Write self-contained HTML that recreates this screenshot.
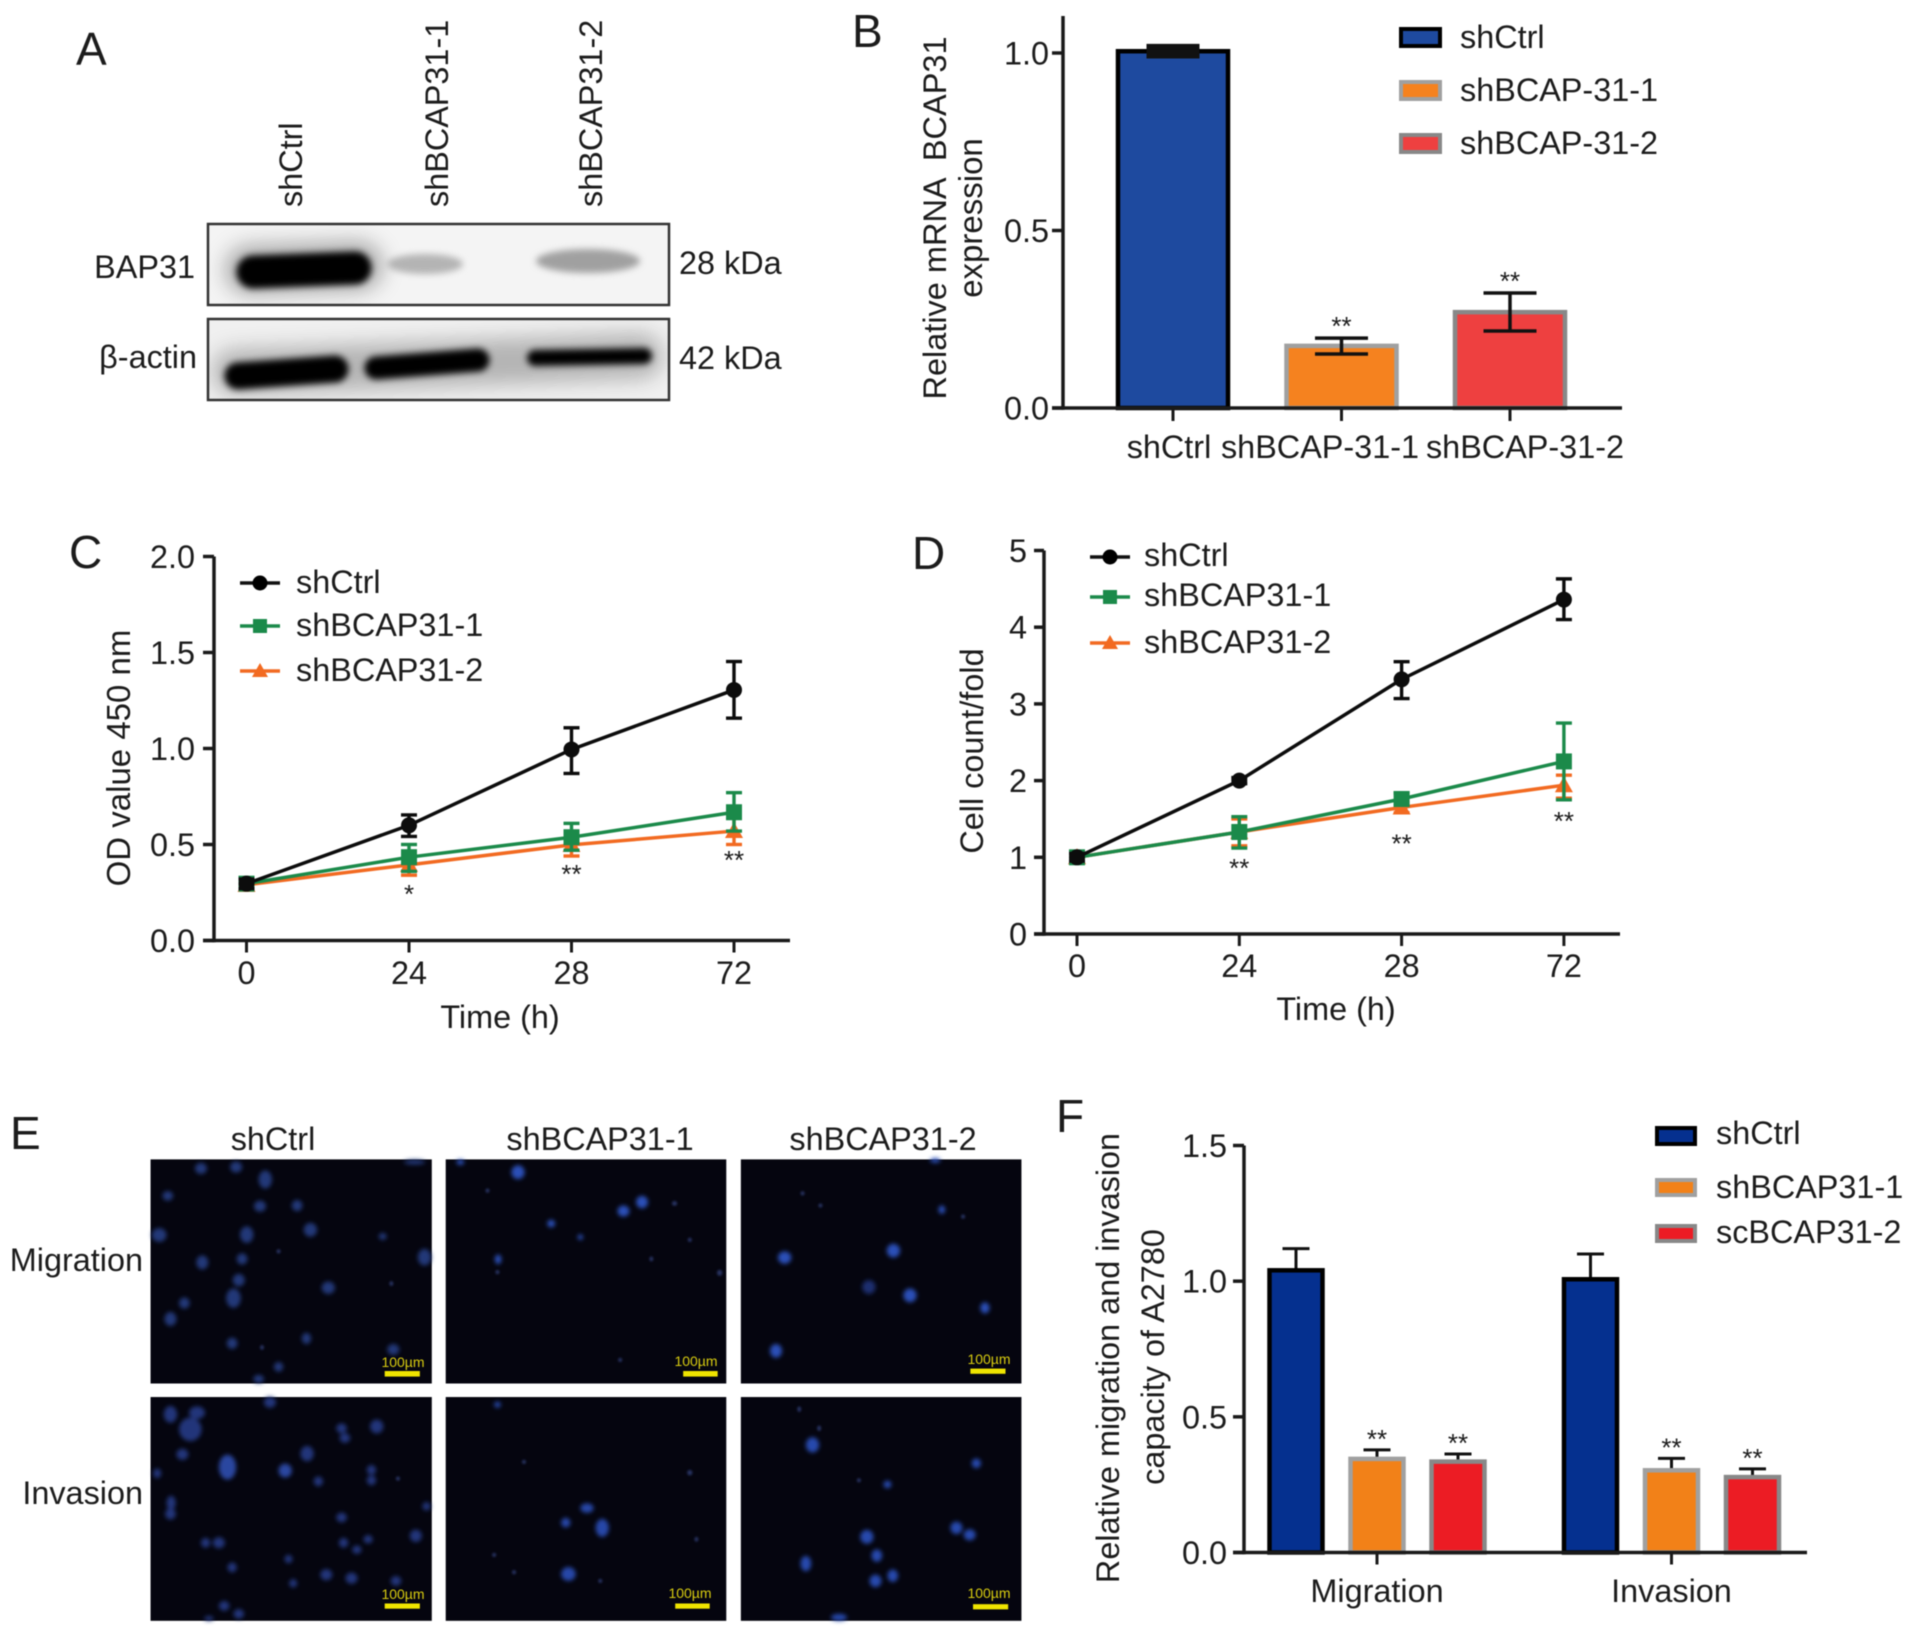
<!DOCTYPE html>
<html lang="en">
<head>
<meta charset="utf-8">
<title>BAP31 knockdown figure</title>
<style>
  html,body{margin:0;padding:0;background:#fff;}
  #figure{display:block;filter:blur(0.6px);}
  text{font-family:"Liberation Sans",Arial,sans-serif;font-size:32.4px;fill:#1c1c1c;}
  .letter{font-size:46px;}
  .star{font-size:26px;text-anchor:middle;}
  .sb{font-size:14px;fill:#d8cc10;text-anchor:middle;}
</style>
</head>
<body>
<svg id="figure" xmlns="http://www.w3.org/2000/svg" width="1913" height="1634" viewBox="0 0 1913 1634">
  <defs>
    <filter id="b3" filterUnits="userSpaceOnUse" x="150" y="180" width="600" height="260"><feGaussianBlur stdDeviation="3.5"/></filter>
    <filter id="b10" filterUnits="userSpaceOnUse" x="150" y="180" width="600" height="260"><feGaussianBlur stdDeviation="10"/></filter>
    <filter id="cellBlur" x="-10%" y="-10%" width="120%" height="120%"><feGaussianBlur stdDeviation="3.4 6.2"/></filter>
    <filter id="speckBlur" x="-10%" y="-10%" width="120%" height="120%"><feGaussianBlur stdDeviation="1.5 3"/></filter>
    <clipPath id="blotClipTop"><rect x="208" y="224" width="461" height="81"/></clipPath>
    <clipPath id="blotClipBottom"><rect x="208" y="319" width="461" height="81"/></clipPath>
  </defs>
  <rect width="1913" height="1634" fill="#fff"/>

  <!-- Panel A -->
  <g>
    <text class="letter" x="76" y="65">A</text>
    <text transform="translate(302,207) rotate(-90)">shCtrl</text>
    <text transform="translate(448,207) rotate(-90)">shBCAP31-1</text>
    <text transform="translate(602,207) rotate(-90)">shBCAP31-2</text>
    <text x="195" y="278" text-anchor="end">BAP31</text>
    <text x="197" y="368" text-anchor="end" style="font-family:'Liberation Sans','DejaVu Sans',sans-serif;">β-actin</text>
    <text x="679" y="274">28 kDa</text>
    <text x="679" y="369">42 kDa</text>
    <g clip-path="url(#blotClipTop)">
      <rect x="208" y="224" width="461" height="81" fill="#f4f4f4"/>
      <line x1="250" y1="270" x2="358" y2="266" stroke="#000" stroke-opacity=".3" stroke-width="50" stroke-linecap="round" filter="url(#b10)"/>
      <line x1="253" y1="272" x2="355" y2="268" stroke="#050103" stroke-width="33" stroke-linecap="round" filter="url(#b3)"/>
      <ellipse cx="425" cy="264" rx="38" ry="10" fill="#b4b4b4" filter="url(#b3)"/>
      <ellipse cx="588" cy="261" rx="52" ry="12" fill="#a0a0a0" filter="url(#b3)"/>
    </g>
    <rect x="208" y="224" width="461" height="81" fill="none" stroke="#333" stroke-width="2.5"/>
    <g clip-path="url(#blotClipBottom)">
      <rect x="208" y="319" width="461" height="81" fill="#f0f0f0"/>
      <line x1="235" y1="372" x2="640" y2="356" stroke="#000" stroke-opacity=".25" stroke-width="46" stroke-linecap="round" filter="url(#b10)"/>
      <line x1="238" y1="376" x2="335" y2="369" stroke="#050103" stroke-width="27" stroke-linecap="round" filter="url(#b3)"/>
      <line x1="376" y1="368" x2="478" y2="360" stroke="#050103" stroke-width="23" stroke-linecap="round" filter="url(#b3)"/>
      <line x1="535" y1="358" x2="644" y2="356" stroke="#050103" stroke-width="16" stroke-linecap="round" filter="url(#b3)"/>
    </g>
    <rect x="208" y="319" width="461" height="81" fill="none" stroke="#333" stroke-width="2.5"/>
  </g>

  <!-- Panel B static labels -->
  <g id="panelB">
    <text class="letter" x="852" y="47">B</text>
    <text transform="translate(946,218) rotate(-90)" text-anchor="middle" style="font-size:32.5px;white-space:pre" xml:space="preserve">Relative mRNA  BCAP31</text>
    <text transform="translate(982,218) rotate(-90)" text-anchor="middle" style="font-size:33px">expression</text>
    <g>
      <rect x="1401" y="29" width="39" height="17" fill="#1e4a9f" stroke="#000" stroke-width="4"/>
      <text x="1460" y="48">shCtrl</text>
      <rect x="1401" y="82" width="39" height="17" fill="#f5821f" stroke="#a0a0a0" stroke-width="4"/>
      <text x="1460" y="101">shBCAP-31-1</text>
      <rect x="1401" y="135" width="39" height="17" fill="#ee4040" stroke="#888" stroke-width="4"/>
      <text x="1460" y="154">shBCAP-31-2</text>
    </g>
  </g>

  <!-- Panel C static labels -->
  <g id="panelC">
    <text class="letter" x="69" y="568">C</text>
    <text transform="translate(130,758) rotate(-90)" text-anchor="middle" style="font-size:33px">OD value 450 nm</text>
    <text x="500" y="1028" text-anchor="middle">Time (h)</text>
    <g>
      <line x1="240" y1="583" x2="280" y2="583" stroke="#111" stroke-width="3.5"/>
      <circle cx="260" cy="583" r="7.5" fill="#000"/>
      <text x="296" y="593">shCtrl</text>
      <line x1="240" y1="626" x2="280" y2="626" stroke="#1b8a4a" stroke-width="3.5"/>
      <rect x="253" y="619" width="14" height="14" fill="#1b8a4a"/>
      <text x="296" y="636">shBCAP31-1</text>
      <line x1="240" y1="671" x2="280" y2="671" stroke="#f26a21" stroke-width="3.5"/>
      <polygon points="260,663 268,677 252,677" fill="#f26a21"/>
      <text x="296" y="681">shBCAP31-2</text>
    </g>
  </g>

  <!-- Panel D static labels -->
  <g id="panelD">
    <text class="letter" x="912" y="569">D</text>
    <text transform="translate(983,751) rotate(-90)" text-anchor="middle">Cell count/fold</text>
    <text x="1336" y="1020" text-anchor="middle">Time (h)</text>
    <g>
      <line x1="1090" y1="557" x2="1130" y2="557" stroke="#111" stroke-width="3.5"/>
      <circle cx="1110" cy="557" r="7.5" fill="#000"/>
      <text x="1144" y="566">shCtrl</text>
      <line x1="1090" y1="597" x2="1130" y2="597" stroke="#1b8a4a" stroke-width="3.5"/>
      <rect x="1103" y="590" width="14" height="14" fill="#1b8a4a"/>
      <text x="1144" y="606">shBCAP31-1</text>
      <line x1="1090" y1="643" x2="1130" y2="643" stroke="#f26a21" stroke-width="3.5"/>
      <polygon points="1110,635 1118,649 1102,649" fill="#f26a21"/>
      <text x="1144" y="653">shBCAP31-2</text>
    </g>
  </g>

  <!-- Panel E -->
  <g>
    <text class="letter" x="10" y="1149">E</text>
    <text x="273" y="1150" text-anchor="middle">shCtrl</text>
    <text x="600" y="1150" text-anchor="middle">shBCAP31-1</text>
    <text x="883" y="1150" text-anchor="middle">shBCAP31-2</text>
    <text x="143" y="1271" text-anchor="end">Migration</text>
    <text x="143" y="1504" text-anchor="end">Invasion</text>
    <svg x="0" y="1090" width="1040" height="544" viewBox="0 0 1568 1568" preserveAspectRatio="none">
      <g fill="#05050f">
        <rect x="227" y="200" width="424" height="646"/>
        <rect x="672" y="200" width="423" height="646"/>
        <rect x="1117" y="200" width="423" height="646"/>
        <rect x="227" y="885" width="424" height="645"/>
        <rect x="672" y="885" width="423" height="645"/>
        <rect x="1117" y="885" width="423" height="645"/>
      </g>
      <g fill="#223878" filter="url(#cellBlur)">
        <ellipse cx="303" cy="226" rx="9" ry="16"/>
        <ellipse cx="356" cy="222" rx="9" ry="16"/>
        <ellipse cx="400" cy="258" rx="10" ry="26"/>
        <ellipse cx="253" cy="305" rx="8" ry="14"/>
        <ellipse cx="392" cy="335" rx="9" ry="16"/>
        <ellipse cx="448" cy="333" rx="8" ry="16"/>
        <ellipse cx="372" cy="417" rx="10" ry="24"/>
        <ellipse cx="468" cy="403" rx="10" ry="20"/>
        <ellipse cx="240" cy="418" rx="11" ry="20"/>
        <ellipse cx="577" cy="422" rx="6" ry="10"/>
        <ellipse cx="640" cy="482" rx="10" ry="24"/>
        <ellipse cx="305" cy="497" rx="9" ry="20"/>
        <ellipse cx="365" cy="487" rx="8" ry="16"/>
        <ellipse cx="360" cy="548" rx="9" ry="18"/>
        <ellipse cx="495" cy="570" rx="10" ry="18"/>
        <ellipse cx="352" cy="600" rx="11" ry="28"/>
        <ellipse cx="278" cy="614" rx="8" ry="16"/>
        <ellipse cx="257" cy="660" rx="9" ry="20"/>
        <ellipse cx="462" cy="716" rx="7" ry="16"/>
        <ellipse cx="350" cy="730" rx="8" ry="16"/>
        <ellipse cx="593" cy="748" rx="9" ry="16"/>
        <ellipse cx="420" cy="798" rx="7" ry="14"/>
        <ellipse cx="390" cy="833" rx="8" ry="12"/>
        <ellipse cx="625" cy="208" rx="16" ry="7"/>
      </g>
      <g fill="#2a50b8" filter="url(#cellBlur)">
        <ellipse cx="781" cy="237" rx="10" ry="20"/>
        <ellipse cx="968" cy="323" rx="9" ry="18"/>
        <ellipse cx="940" cy="349" rx="9" ry="16"/>
        <ellipse cx="831" cy="385" rx="6" ry="11"/>
        <ellipse cx="875" cy="424" rx="4" ry="8"/>
        <ellipse cx="751" cy="488" rx="5" ry="14"/>
        <ellipse cx="694" cy="208" rx="6" ry="8"/>
      </g>
      <g fill="#2a50b8" filter="url(#cellBlur)">
        <ellipse cx="1410" cy="203" rx="8" ry="7"/>
        <ellipse cx="1420" cy="345" rx="5" ry="12"/>
        <ellipse cx="1347" cy="463" rx="10" ry="20"/>
        <ellipse cx="1183" cy="483" rx="10" ry="18"/>
        <ellipse cx="1310" cy="568" rx="10" ry="20" fill="#1d2e70"/>
        <ellipse cx="1372" cy="592" rx="10" ry="20"/>
        <ellipse cx="1485" cy="628" rx="7" ry="16"/>
        <ellipse cx="1170" cy="752" rx="9" ry="20"/>
      </g>
      <g fill="#21367a" filter="url(#cellBlur)">
        <ellipse cx="257" cy="935" rx="10" ry="24"/>
        <ellipse cx="297" cy="930" rx="12" ry="18"/>
        <ellipse cx="287" cy="978" rx="17" ry="34"/>
        <ellipse cx="407" cy="900" rx="9" ry="16"/>
        <ellipse cx="515" cy="975" rx="8" ry="14"/>
        <ellipse cx="520" cy="1003" rx="8" ry="14"/>
        <ellipse cx="568" cy="970" rx="10" ry="20"/>
        <ellipse cx="275" cy="1050" rx="9" ry="16"/>
        <ellipse cx="343" cy="1087" rx="13" ry="36" fill="#2946a0"/>
        <ellipse cx="463" cy="1048" rx="10" ry="22"/>
        <ellipse cx="430" cy="1097" rx="10" ry="20" fill="#2946a0"/>
        <ellipse cx="480" cy="1128" rx="7" ry="14"/>
        <ellipse cx="560" cy="1095" rx="7" ry="14"/>
        <ellipse cx="560" cy="1125" rx="7" ry="14"/>
        <ellipse cx="237" cy="1105" rx="6" ry="14"/>
        <ellipse cx="258" cy="1190" rx="7" ry="20"/>
        <ellipse cx="257" cy="1222" rx="8" ry="16"/>
        <ellipse cx="515" cy="1232" rx="8" ry="14"/>
        <ellipse cx="643" cy="1200" rx="6" ry="12"/>
        <ellipse cx="627" cy="1285" rx="9" ry="18"/>
        <ellipse cx="555" cy="1295" rx="7" ry="12"/>
        <ellipse cx="518" cy="1305" rx="7" ry="14"/>
        <ellipse cx="538" cy="1325" rx="7" ry="12"/>
        <ellipse cx="310" cy="1305" rx="7" ry="14"/>
        <ellipse cx="330" cy="1305" rx="9" ry="16"/>
        <ellipse cx="435" cy="1352" rx="6" ry="12"/>
        <ellipse cx="350" cy="1376" rx="7" ry="14"/>
        <ellipse cx="492" cy="1397" rx="9" ry="16"/>
        <ellipse cx="530" cy="1407" rx="9" ry="16"/>
        <ellipse cx="597" cy="1415" rx="8" ry="14"/>
        <ellipse cx="442" cy="1422" rx="6" ry="12"/>
        <ellipse cx="338" cy="1487" rx="8" ry="14"/>
        <ellipse cx="360" cy="1510" rx="8" ry="14"/>
        <ellipse cx="315" cy="1523" rx="7" ry="7"/>
      </g>
      <g fill="#2546a8" filter="url(#cellBlur)">
        <ellipse cx="750" cy="907" rx="5" ry="9"/>
        <ellipse cx="885" cy="1205" rx="10" ry="14"/>
        <ellipse cx="853" cy="1247" rx="7" ry="14"/>
        <ellipse cx="908" cy="1262" rx="10" ry="26"/>
        <ellipse cx="857" cy="1395" rx="11" ry="20"/>
      </g>
      <g fill="#2749ad" filter="url(#cellBlur)">
        <ellipse cx="1225" cy="1023" rx="10" ry="22"/>
        <ellipse cx="1472" cy="1076" rx="7" ry="14"/>
        <ellipse cx="1338" cy="1137" rx="6" ry="11"/>
        <ellipse cx="1442" cy="1262" rx="9" ry="18"/>
        <ellipse cx="1462" cy="1282" rx="9" ry="16"/>
        <ellipse cx="1307" cy="1288" rx="10" ry="20"/>
        <ellipse cx="1322" cy="1342" rx="8" ry="18"/>
        <ellipse cx="1215" cy="1365" rx="8" ry="22"/>
        <ellipse cx="1346" cy="1400" rx="8" ry="18"/>
        <ellipse cx="1320" cy="1415" rx="9" ry="18"/>
        <ellipse cx="1265" cy="1520" rx="12" ry="10"/>
      </g>
      <g fill="#26305e" filter="url(#speckBlur)">
        <ellipse cx="735" cy="290" rx="3" ry="6"/>
        <ellipse cx="1017" cy="327" rx="4" ry="7"/>
        <ellipse cx="1040" cy="432" rx="3" ry="6"/>
        <ellipse cx="982" cy="487" rx="3" ry="7"/>
        <ellipse cx="1085" cy="527" rx="4" ry="9"/>
        <ellipse cx="750" cy="525" rx="3" ry="6"/>
        <ellipse cx="935" cy="778" rx="3" ry="6"/>
        <ellipse cx="1237" cy="333" rx="3" ry="6"/>
        <ellipse cx="1452" cy="365" rx="3" ry="6"/>
        <ellipse cx="1210" cy="298" rx="3" ry="6"/>
        <ellipse cx="790" cy="1072" rx="3" ry="6"/>
        <ellipse cx="1040" cy="1103" rx="4" ry="8"/>
        <ellipse cx="745" cy="1340" rx="3" ry="6"/>
        <ellipse cx="775" cy="1390" rx="3" ry="6"/>
        <ellipse cx="1050" cy="1295" rx="3" ry="7"/>
        <ellipse cx="905" cy="1415" rx="3" ry="6"/>
        <ellipse cx="1205" cy="920" rx="3" ry="8"/>
        <ellipse cx="1235" cy="975" rx="3" ry="8"/>
        <ellipse cx="1295" cy="1125" rx="3" ry="6"/>
        <ellipse cx="420" cy="465" rx="3" ry="6"/>
        <ellipse cx="590" cy="558" rx="3" ry="7"/>
        <ellipse cx="395" cy="742" rx="3" ry="7"/>
        <ellipse cx="600" cy="1120" rx="3" ry="6"/>
      </g>
      <g fill="#efe400">
        <rect x="580" y="810" width="53" height="16"/>
        <rect x="1030" y="810" width="52" height="16"/>
        <rect x="1463" y="803" width="53" height="15"/>
        <rect x="580" y="1480" width="53" height="15"/>
        <rect x="1018" y="1480" width="52" height="15"/>
        <rect x="1467" y="1482" width="53" height="15"/>
      </g>
    </svg>
    <text class="sb" x="403" y="1367">100µm</text>
    <text class="sb" x="696" y="1366">100µm</text>
    <text class="sb" x="989" y="1364">100µm</text>
    <text class="sb" x="403" y="1599">100µm</text>
    <text class="sb" x="690" y="1598">100µm</text>
    <text class="sb" x="989" y="1598">100µm</text>
  </g>

  <!-- Panel F static labels -->
  <g id="panelF">
    <text class="letter" x="1056" y="1132">F</text>
    <text transform="translate(1119,1358) rotate(-90)" text-anchor="middle">Relative migration and invasion</text>
    <text transform="translate(1164,1357) rotate(-90)" text-anchor="middle">capacity of A2780</text>
    <g>
      <rect x="1657" y="1128" width="38" height="16" fill="#05308f" stroke="#000" stroke-width="4"/>
      <text x="1716" y="1144">shCtrl</text>
      <rect x="1657" y="1180" width="38" height="15" fill="#f28118" stroke="#a0a0a0" stroke-width="4"/>
      <text x="1716" y="1198">shBCAP31-1</text>
      <rect x="1657" y="1226" width="38" height="15" fill="#ec1c24" stroke="#888" stroke-width="4"/>
      <text x="1716" y="1243">scBCAP31-2</text>
    </g>
  </g>
</svg>

<script>
/* ---------- Panel B data ---------- */
const bCategories = ['shCtrl', 'shBCAP-31-1', 'shBCAP-31-2'];
const bValues = [1.005, 0.175, 0.27];
const bErrLow = [0.995, 0.152, 0.217];
const bErrHigh = [1.015, 0.197, 0.324];
const bStars = ['', '**', '**'];
const bTickLabels = ['0.0', '0.5', '1.0'];

/* ---------- Panel C data ---------- */
const cCategories = ['0', '24', '28', '72'];
const cTickLabels = ['0.0', '0.5', '1.0', '1.5', '2.0'];
const cCtrl = [0.296, 0.60, 0.995, 1.305];
const cCtrlLow = [0.27, 0.542, 0.87, 1.158];
const cCtrlHigh = [0.32, 0.654, 1.108, 1.453];
const cSh1 = [0.296, 0.434, 0.538, 0.668];
const cSh1Low = [0.27, 0.36, 0.47, 0.57];
const cSh1High = [0.32, 0.50, 0.61, 0.77];
const cSh2 = [0.29, 0.394, 0.498, 0.57];
const cSh2Low = [0.27, 0.34, 0.44, 0.50];
const cSh2High = [0.31, 0.44, 0.55, 0.64];
const cStars = ['', '*', '**', '**'];

/* ---------- Panel D data ---------- */
const dCategories = ['0', '24', '28', '72'];
const dTickLabels = ['0', '1', '2', '3', '4', '5'];
const dCtrl = [1.0, 2.0, 3.32, 4.36];
const dCtrlLow = [0.95, 1.96, 3.07, 4.1];
const dCtrlHigh = [1.05, 2.04, 3.55, 4.63];
const dSh1 = [1.0, 1.33, 1.76, 2.25];
const dSh1Low = [0.95, 1.12, 1.68, 1.75];
const dSh1High = [1.05, 1.53, 1.84, 2.75];
const dSh2 = [1.0, 1.33, 1.65, 1.94];
const dSh2Low = [0.95, 1.15, 1.58, 1.77];
const dSh2High = [1.05, 1.5, 1.72, 2.07];
const dStars = ['', '**', '**', '**'];

/* ---------- Panel F data ---------- */
const fGroups = ['Migration', 'Invasion'];
const fTickLabels = ['0.0', '0.5', '1.0', '1.5'];
const fCtrl = [1.04, 1.007];
const fCtrlHigh = [1.12, 1.10];
const fSh1 = [0.345, 0.303];
const fSh1High = [0.378, 0.347];
const fSc2 = [0.335, 0.278];
const fSc2High = [0.363, 0.308];
const fStarsSh1 = ['**', '**'];
const fStarsSc2 = ['**', '**'];

const NS = 'http://www.w3.org/2000/svg';
function mk(tag, attrs, parent, content) {
  const el = document.createElementNS(NS, tag);
  for (const k in attrs) el.setAttribute(k, attrs[k]);
  if (content !== undefined) el.textContent = content;
  parent.appendChild(el);
  return el;
}
function linearScale(d0, d1, r0, r1) {
  return v => r0 + (v - d0) * (r1 - r0) / (d1 - d0);
}
const AXIS = '#1a1a1a';

function drawValueAxis(parent, opts, labels, scale) {
  const axis = mk('line', {x1: opts.x, x2: opts.x, y1: opts.top, y2: opts.bottom + 1.75, stroke: AXIS, 'stroke-width': 3.5}, parent);
  
  
  labels.forEach(lab => {
    const y = scale(parseFloat(lab));
    const tick = mk('line', {x1: opts.x - opts.tick, x2: opts.x, y1: y, y2: y, stroke: AXIS, 'stroke-width': 3.5}, parent);
    
    
    const txt = mk('text', {x: opts.labelX, y: y + 11.5, 'text-anchor': 'end'}, parent, lab);
    
    
  });
}
function drawBaseline(parent, x1, x2, y) {
  const axis = mk('line', {x1: x1, x2: x2, y1: y, y2: y, stroke: AXIS, 'stroke-width': 3.5}, parent);
  
  
}
function drawXTick(parent, x, y0, y1) {
  const tick = mk('line', {x1: x, x2: x, y1: y0, y2: y1, stroke: AXIS, 'stroke-width': 3}, parent);
  
  
}
function drawStar(parent, x, centerY, label) {
  if (!label) return;
  const s = mk('text', {class: 'star', x: x, y: centerY + 15}, parent, label);
  
  
}
function drawBar(parent, cx, w, value, y, fill, stroke, baseY) {
  const top = y(value);
  const bar = mk('rect', {x: cx - w / 2, y: top, width: w, height: baseY - top, fill: fill, stroke: stroke, 'stroke-width': 4.5}, parent);
  
  
}
function drawErrorBar(parent, cx, capW, yLow, yHigh, color, sw) {
  const stem = mk('line', {x1: cx, x2: cx, y1: yLow, y2: yHigh, stroke: color, 'stroke-width': sw}, parent);
  
  
  [yLow, yHigh].forEach(yy => {
    const cap = mk('line', {x1: cx - capW / 2, x2: cx + capW / 2, y1: yy, y2: yy, stroke: color, 'stroke-width': sw}, parent);
    
    
  });
}

/* ---------- Panel B ---------- */
(function () {
  const g = document.getElementById('panelB');
  const y = linearScale(0, 1, 408, 53);
  const xAt = i => 1173 + i * 168.5;
  const fills = ['#1e4a9f', '#f5821f', '#ee4040'];
  const strokes = ['#000', '#a0a0a0', '#888'];
  bValues.forEach((v, i) => {
    drawBar(g, xAt(i), 110, v, y, fills[i], strokes[i], 408);
    const lowY = y(bErrLow[i]), highY = y(bErrHigh[i]);
    drawErrorBar(g, xAt(i), 53, lowY, highY, '#111', lowY - highY < 15 ? 7.5 : 3.5);
    drawXTick(g, xAt(i), 408, 421);
    drawStar(g, xAt(i), highY - 18, bStars[i]);
  });
  drawValueAxis(g, {x: 1063, top: 16, bottom: 408, tick: 11, labelX: 1049}, bTickLabels, y);
  drawBaseline(g, 1052, 1622, 408);
  const labelCenters = [1169, 1320, 1525];
  bCategories.forEach((c, i) => {
    const t = mk('text', {x: labelCenters[i], y: 458, 'text-anchor': 'middle'}, g, c);
    
    
  });
})();

/* ---------- Line panels ---------- */
function drawLinePanel(g, opts, cats, tickLabels, series, stars) {
  const y = linearScale(opts.d0, opts.d1, opts.y0, opts.y1);
  const xAt = i => opts.x0 + i * opts.step;
  series.forEach(s => {
    s.values.forEach((v, i) => {
      drawErrorBar(g, xAt(i), 16, y(s.low[i]), y(s.high[i]), s.color, 3.4);
    });
    const pts = s.values.map((v, i) => xAt(i) + ',' + y(v)).join(' ');
    const line = mk('polyline', {points: pts, fill: 'none', stroke: s.color, 'stroke-width': 3.5}, g);
    
    
    s.values.forEach((v, i) => {
      const px = xAt(i), py = y(v);
      let m;
      if (s.marker === 'circle') {
        m = mk('circle', {cx: px, cy: py, r: 8, fill: s.color}, g);
      } else if (s.marker === 'square') {
        m = mk('rect', {x: px - 8, y: py - 8, width: 16, height: 16, fill: s.color}, g);
      } else {
        m = mk('polygon', {points: px + ',' + (py - 9) + ' ' + (px + 9) + ',' + (py + 7) + ' ' + (px - 9) + ',' + (py + 7), fill: s.color}, g);
      }
      
      
    });
  });
  const refSeries = series[0];
  stars.forEach((label, i) => drawStar(g, xAt(i), y(refSeries.values[i]) + opts.starGap, label));
  drawValueAxis(g, {x: opts.axisX, top: opts.y1, bottom: opts.y0, tick: opts.tick, labelX: opts.labelX}, tickLabels, y);
  drawBaseline(g, opts.axisX - opts.tick, opts.xEnd, opts.y0);
  cats.forEach((c, i) => {
    drawXTick(g, xAt(i), opts.y0, opts.y0 + 12);
    const t = mk('text', {x: xAt(i), y: opts.catY, 'text-anchor': 'middle'}, g, c);
    
    
  });
}
drawLinePanel(document.getElementById('panelC'),
  {d0: 0, d1: 2, y0: 940.5, y1: 556.5, x0: 246.5, step: 162.5, axisX: 214, tick: 11, labelX: 195, xEnd: 790, catY: 984, starGap: 23},
  cCategories, cTickLabels,
  [
    {name: 'shbcap31-2', color: '#f26a21', marker: 'triangle', values: cSh2, low: cSh2Low, high: cSh2High},
    {name: 'shbcap31-1', color: '#1b8a4a', marker: 'square', values: cSh1, low: cSh1Low, high: cSh1High},
    {name: 'shctrl', color: '#0c0c0c', marker: 'circle', values: cCtrl, low: cCtrlLow, high: cCtrlHigh}
  ], cStars);
drawLinePanel(document.getElementById('panelD'),
  {d0: 0, d1: 5, y0: 934, y1: 550.5, x0: 1077, step: 162.3, axisX: 1044, tick: 10, labelX: 1027, xEnd: 1620, catY: 977, starGap: 30},
  dCategories, dTickLabels,
  [
    {name: 'shbcap31-2', color: '#f26a21', marker: 'triangle', values: dSh2, low: dSh2Low, high: dSh2High},
    {name: 'shbcap31-1', color: '#1b8a4a', marker: 'square', values: dSh1, low: dSh1Low, high: dSh1High},
    {name: 'shctrl', color: '#0c0c0c', marker: 'circle', values: dCtrl, low: dCtrlLow, high: dCtrlHigh}
  ], dStars);

/* ---------- Panel F ---------- */
(function () {
  const g = document.getElementById('panelF');
  const y = linearScale(0, 1.5, 1552.5, 1145.5);
  const center = i => 1377 + i * 294.5;
  const offset = 81;
  const base = 1552.5;
  fGroups.forEach((name, i) => {
    const c = center(i);
    [[fCtrl, fCtrlHigh, -offset, '#05308f', '#000', null],
     [fSh1, fSh1High, 0, '#f28118', '#a0a0a0', fStarsSh1],
     [fSc2, fSc2High, offset, '#ec1c24', '#888', fStarsSc2]].forEach(row => {
      const cx = c + row[2];
      const high = y(row[1][i]);
      const top = y(row[0][i]);
      const stem = mk('line', {x1: cx, x2: cx, y1: top, y2: high, stroke: '#111', 'stroke-width': 3}, g);
      
      
      const cap = mk('line', {x1: cx - 13.5, x2: cx + 13.5, y1: high, y2: high, stroke: '#111', 'stroke-width': 3}, g);
      
      
      drawBar(g, cx, 53, row[0][i], y, row[3], row[4], base);
      if (row[5]) drawStar(g, cx, high - 17, row[5][i]);
    });
    drawXTick(g, c, base, base + 12);
    const t = mk('text', {x: c, y: 1602, 'text-anchor': 'middle'}, g, name);
    
    
  });
  drawValueAxis(g, {x: 1244, top: 1145.5, bottom: base, tick: 11, labelX: 1227}, fTickLabels, y);
  drawBaseline(g, 1233, 1807, base);
})();
</script>
</body>
</html>
